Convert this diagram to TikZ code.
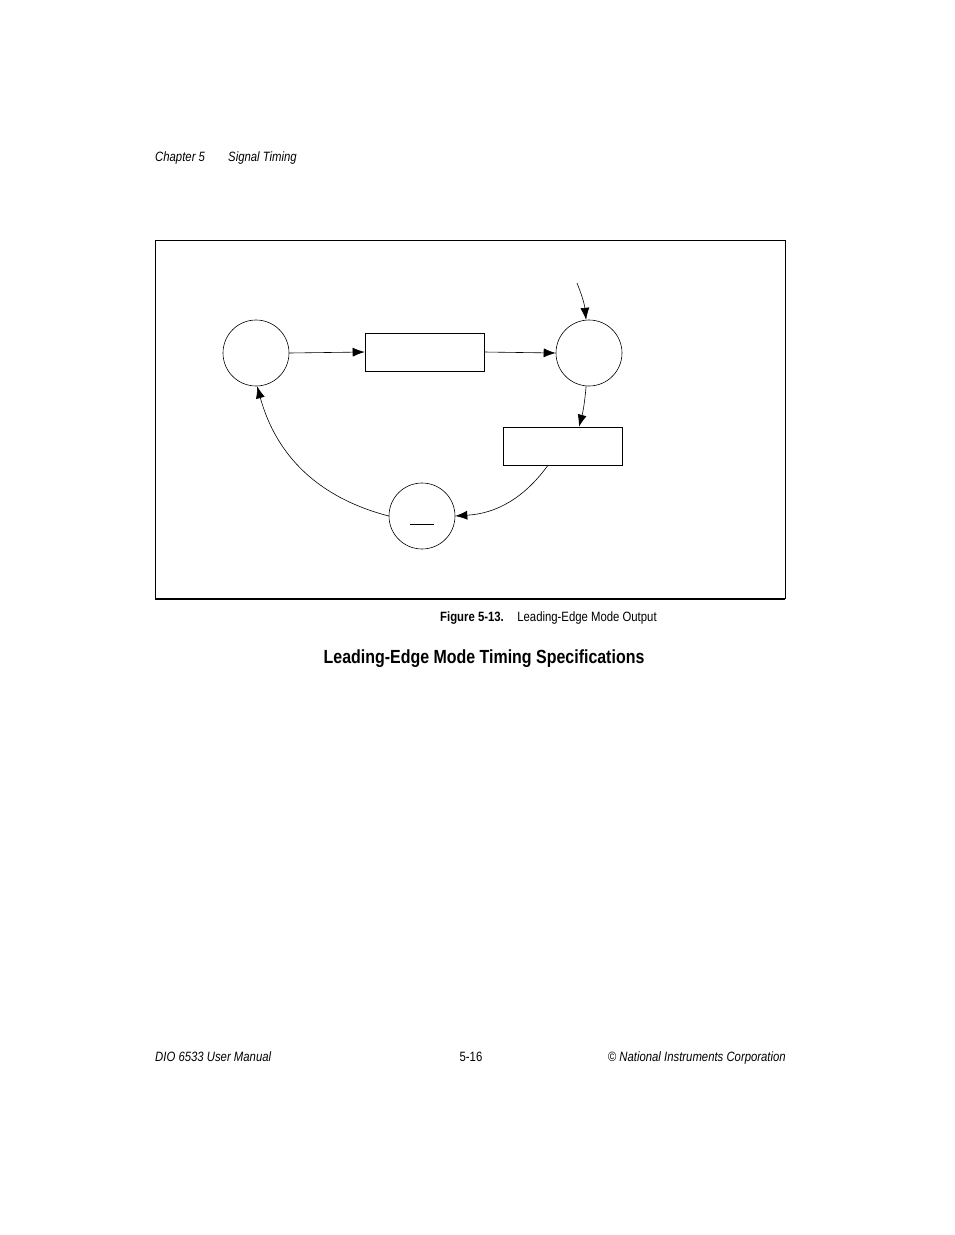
\documentclass[tikz,border=0pt]{standalone}
\usepackage{fontspec}
\setmainfont{Liberation Sans}[FakeStretch=0.84]
\usetikzlibrary{arrows.meta,calc}
\begin{document}
\begin{tikzpicture}[x=1pt,y=-1pt,
  circ/.style={draw,circle,minimum size=66pt,inner sep=0pt,line width=0.6pt},
  boxx/.style={draw,rectangle,minimum width=119pt,minimum height=38pt,inner sep=0pt,line width=0.6pt},
  arr/.style={-{Latex[length=12pt,width=9pt]},line width=0.6pt},
  txt/.style={inner sep=0pt,font=\fontsize{13.5}{16}\selectfont}]
\useasboundingbox (0,0) rectangle (954,1235);
\node[txt,anchor=base west] (ch) at (155,161) {\itshape Chapter 5};
\node[txt,anchor=base west] (st) at (228,161) {\itshape Signal Timing};
\draw[line width=0.6pt] (155,599) -- (155,240) -- (785,240) -- (785,599);
\draw[line width=1.5pt] (155,599) -- (785,599);
\node[circ] (A) at (256,353) {};
\node[boxx] (b1) at (424.5,352) {};
\node[circ] (B) at (589,353) {};
\node[boxx] (b2) at (563,446) {};
\node[circ] (C) at (422,516) {};
\draw[line width=0.6pt] (410,524) -- (434,524);
\coordinate (in) at (577,283);
\draw[arr] (A.east) -- (b1.west);
\draw[arr] (b1.east) -- (B.west);
\draw[arr] (in) to[bend left=8] (B.95);
\draw[arr] (B.-95) to[bend right=-5] ($(b2.north)+(16,0)$);
\draw[arr] ($(b2.south)+(-15,0)$) to[bend left=25] (C.east);
\draw[arr] (C.west) to[bend left=30] (A.-88);
\node[txt,anchor=base west] (cap) at (440,621) {\textbf{Figure 5-13.}\quad Leading-Edge Mode Output};
\node[inner sep=0pt,anchor=base,font=\fontsize{19}{22}\selectfont\bfseries] (h) at (484,663) {Leading-Edge Mode Timing Specifications};
\node[txt,anchor=base west] (f1) at (155,1061) {\itshape DIO 6533 User Manual};
\node[txt,anchor=base] (f2) at (471,1061) {5-16};
\node[txt,anchor=base east] (f3) at (786,1061) {\itshape © National Instruments Corporation};
\end{tikzpicture}
\end{document}
